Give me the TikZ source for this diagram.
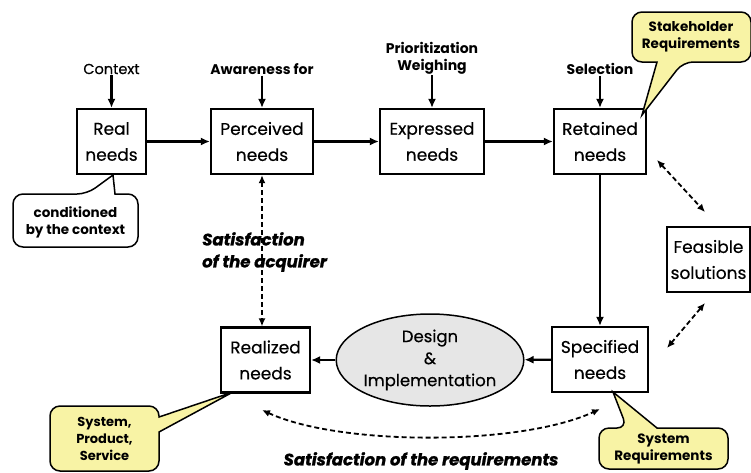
\documentclass[tikz,border=0pt]{standalone}
\usepackage{fontspec}
\setmainfont{Poppins}
\newfontfamily\medfont{Poppins}[FakeBold=0.4]
\newfontfamily\heavyfont{Poppins}[FakeBold=1.2]
\usetikzlibrary{arrows.meta,shapes.geometric}
\definecolor{callyellow}{RGB}{248,243,165}
\definecolor{ellgray}{RGB}{230,230,230}
\tikzset{
  needbox/.style={draw, line width=2.2pt, minimum height=65, align=center, inner sep=0pt,
    font=\medfont\fontsize{17}{26}\selectfont},
  toplab/.style={align=center, inner sep=1pt, font=\bfseries\fontsize{14}{17}\selectfont},
  arr/.style={line width=2.2pt, -{Latex[length=9pt,width=8pt]}},
  darr/.style={line width=1.8pt, dash pattern=on 5pt off 3pt, {Latex[length=8pt,width=7pt]}-{Latex[length=8pt,width=7pt]}},
  callout/.style={draw, line width=1.5pt, fill=callyellow},
  calltxt/.style={align=center, inner sep=0pt, font=\bfseries\fontsize{13.5}{17}\selectfont},
  satlab/.style={align=left, inner sep=0pt, font=\heavyfont\bfseries\itshape\fontsize{16.5}{22}\selectfont}
}
\begin{document}
\begin{tikzpicture}[x=1pt,y=-1pt]
\useasboundingbox (0,0) rectangle (751,472);
% boxes
\node[needbox, minimum width=69] (real) at (111.5,141.5) {Real\\needs};
\node[needbox, minimum width=102] (perc) at (262,141.5) {Perceived\\needs};
\node[needbox, minimum width=104] (expr) at (432,141.5) {Expressed\\needs};
\node[needbox, minimum width=92] (ret) at (600,141.5) {Retained\\needs};
\node[needbox, minimum width=83] (feas) at (708.5,259.5) {Feasible\\solutions};
\node[needbox, minimum width=96] (spec) at (600,359.5) {Specified\\needs};
\node[needbox, minimum width=89] (rlz) at (265.5,360) {Realized\\needs};
\node[ellipse, draw, fill=ellgray, line width=1.5pt, minimum width=180, minimum height=92,
  inner sep=0pt, align=center, font=\medfont\fontsize{16.5}{22}\selectfont] (des) at (430,360) {Design\\\&\\Implementation};
% top labels
\node[toplab, font=\medfont\fontsize{14.5}{17}\selectfont] (lctx) at (111.5,69) {Context};
\node[toplab] (lawa) at (262,69) {Awareness for};
\node[toplab] (lpri) at (432,58) {Prioritization\\Weighing};
\node[toplab] (lsel) at (600,69) {Selection};
\draw[arr] (lctx) -- (real);
\draw[arr] (lawa) -- (perc);
\draw[arr] (lpri) -- (expr);
\draw[arr] (lsel) -- (ret);
% main flow
\draw[arr] (real) -- (perc);
\draw[arr] (perc) -- (expr);
\draw[arr] (expr) -- (ret);
\draw[arr] (ret) -- (spec);
\draw[arr] (spec) -- (des);
\draw[arr] (des) -- (rlz);
% satisfaction of the acquirer
\node[satlab, anchor=west] (sacq) at (202,252) {Satisfaction\\of the acquirer};
\draw[darr] (perc.south) -- (perc.south |- rlz.north);
% feasible solutions links
\coordinate (f1) at (657,160);
\coordinate (f2) at (705,212);
\coordinate (f3) at (705,303);
\coordinate (f4) at (667,348);
\draw[darr] (f1) -- (f2);
\draw[darr] (f3) -- (f4);
% requirements satisfaction
\coordinate (b1) at (262,410);
\coordinate (b2) at (600,409);
\draw[darr] (b1) .. controls (340,446) and (520,446) .. (b2);
\node[satlab, anchor=center, font=\heavyfont\bfseries\itshape\fontsize{16.5}{16}\selectfont] (sreq) at (421,461) {Satisfaction of the requirements};
% callouts
\draw[line width=1.5pt, fill=white, rounded corners=10pt]
  (13,194) -- (87,194) [sharp corners] -- (113,175) -- (115,194) [rounded corners=10pt]
  -- (138,194) -- (138,247) -- (13,247) -- cycle;
\node[calltxt] (ccond) at (75.5,222) {conditioned\\by the context};
\draw[callout, rounded corners=10pt]
  (632,12) -- (751,12) -- (751,62) -- (683,62) [sharp corners] -- (642,115) -- (657,62) [rounded corners=10pt]
  -- (632,62) -- cycle;
\node[calltxt] (cstk) at (691,37) {Stakeholder\\Requirements};
\draw[callout, rounded corners=10pt]
  (50,406) -- (159,406) [sharp corners] -- (159,417) -- (233,392) -- (159,432) [rounded corners=10pt]
  -- (159,471) -- (50,471) -- cycle;
\node[calltxt, font=\bfseries\fontsize{13}{17}\selectfont] (csys) at (104.5,439) {System,\\Product,\\Service};
\draw[callout, rounded corners=10pt]
  (599,428) -- (627,428) [sharp corners] -- (613,392) -- (657,428) [rounded corners=10pt]
  -- (728,428) -- (728,469) -- (599,469) -- cycle;
\node[calltxt] (csr) at (663.5,449) {System\\Requirements};
\end{tikzpicture}
\end{document}
